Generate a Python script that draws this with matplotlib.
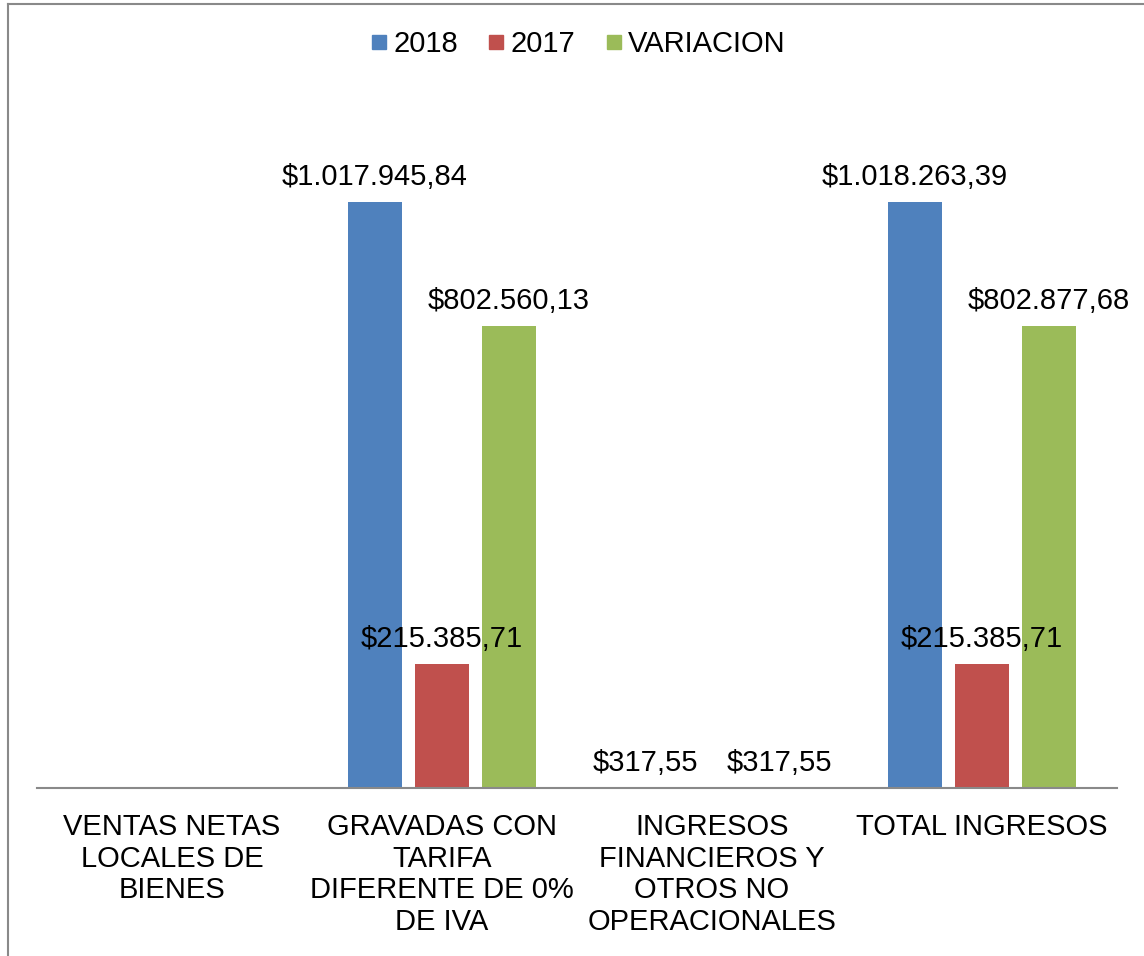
import matplotlib.pyplot as plt
import numpy as np
from matplotlib.lines import Line2D

plt.rcParams['font.family'] = ['Liberation Sans', 'DejaVu Sans']

categories = [
    "VENTAS NETAS\nLOCALES DE\nBIENES",
    "GRAVADAS CON\nTARIFA\nDIFERENTE DE 0%\nDE IVA",
    "INGRESOS\nFINANCIEROS Y\nOTROS NO\nOPERACIONALES",
    "TOTAL INGRESOS",
]
series_names = ["2018", "2017", "VARIACION"]
v2018 = [np.nan, 1017945.84, 317.55, 1018263.39]
v2017 = [np.nan, 215385.71, np.nan, 215385.71]
variacion = [np.nan, 802560.13, 317.55, 802877.68]

COLORS = ["#4F81BD", "#C0504D", "#9BBB59"]
FRAME = "#898989"
FS = 21


def money(v):
    # 1,017,945.84 -> $1.017.945,84
    s = f"{v:,.2f}"
    s = s.replace(",", "X").replace(".", ",").replace("X", ".")
    return "$" + s


W, H = 1144, 956
fig = plt.figure(figsize=(W / 100, H / 100), dpi=100)
ax = fig.add_axes([37 / W, 168 / H, (1117 - 37) / W, (788 - 100) / H])

x = np.arange(len(categories))
width = 0.2
step = 0.248
for i, (vals, c) in enumerate(zip([v2018, v2017, variacion], COLORS)):
    xs = x + (i - 1) * step
    ax.bar(xs, vals, width=width, color=c)
    for xi, v in zip(xs, vals):
        if np.isnan(v):
            continue
        ax.annotate(money(v), (xi, v), xytext=(0, 8), textcoords="offset points",
                    ha="center", va="bottom", fontsize=FS)

ax.set_xlim(-0.5, len(categories) - 0.5)
ax.set_ylim(0, 688 / 586 * 1017945.84)
ax.set_xticks(x)
ax.set_xticklabels(categories, fontsize=FS, linespacing=1.17)
ax.tick_params(axis="x", length=0, pad=18)
ax.set_yticks([])
for s in ["top", "right", "left"]:
    ax.spines[s].set_visible(False)
ax.spines["bottom"].set_color(FRAME)
ax.spines["bottom"].set_linewidth(1.5)

handles = [Line2D([], [], marker="s", ls="", color=c, markersize=10) for c in COLORS]
fig.legend(handles, series_names, loc="center", bbox_to_anchor=(578 / W, 1 - 44 / H),
           ncol=3, frameon=False, fontsize=FS, handlelength=0.6, handletextpad=0.2,
           columnspacing=1.0)

# chart frame (only top and left edges visible)
fig.add_artist(Line2D([8 / W, 8 / W], [0, 1 - 4 / H], color=FRAME, lw=1.5,
                      transform=fig.transFigure))
fig.add_artist(Line2D([8 / W, 1], [1 - 4 / H, 1 - 4 / H], color=FRAME, lw=1.5,
                      transform=fig.transFigure))

fig.savefig("out.png", dpi=100)
